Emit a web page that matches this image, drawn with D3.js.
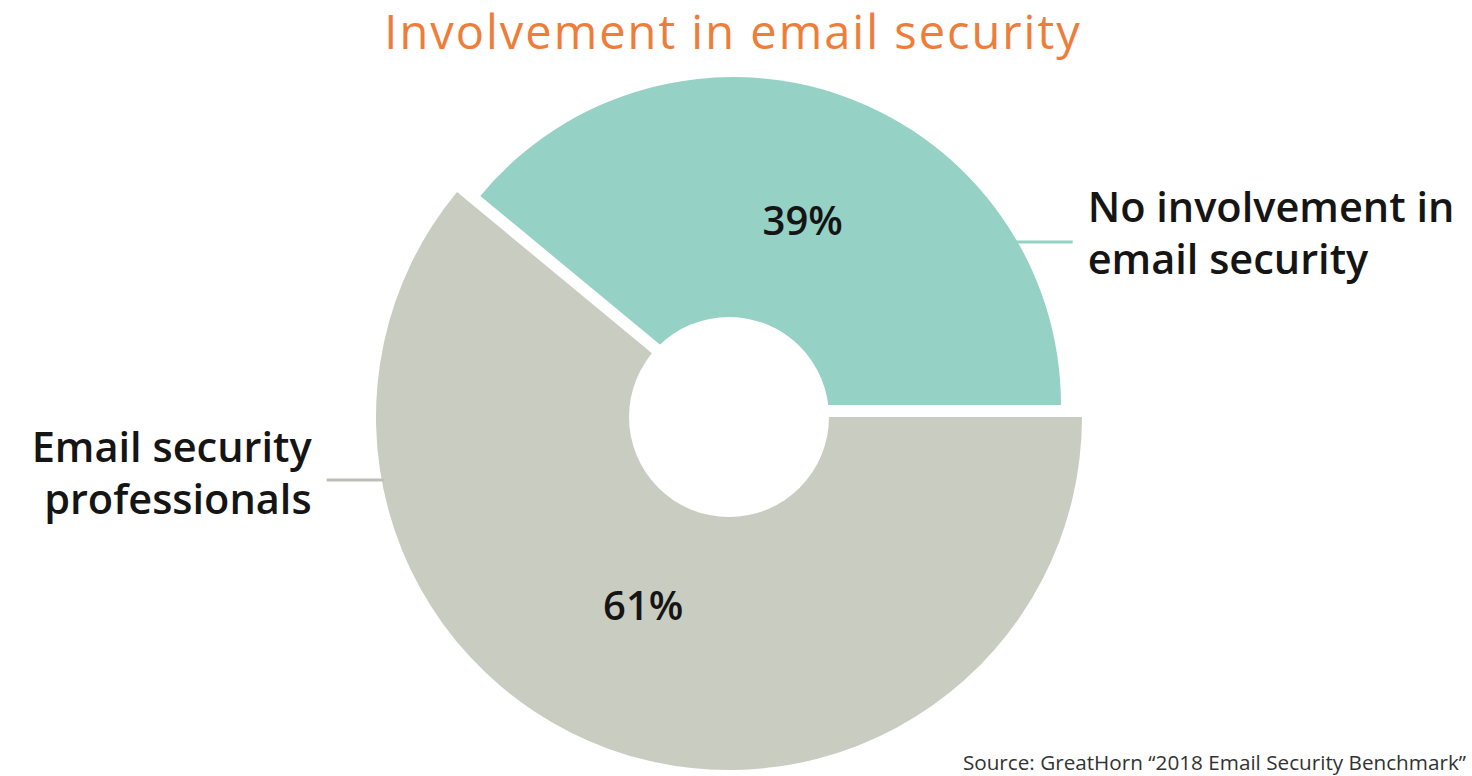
<!DOCTYPE html>
<html>
<head>
<meta charset="utf-8">
<script src="https://cdn.jsdelivr.net/npm/d3@7/dist/d3.min.js"></script>
<style>
  html, body { margin: 0; padding: 0; background: #ffffff; }
  svg { display: block; }
</style>
</head>
<body>
<svg id="chart" width="1472" height="776"></svg>
<script>
// ---- data ----
const categories = ["No involvement in email security", "Email security professionals"];
const values = [39, 61];
const valueLabels = ["39%", "61%"];
const labelLines = [["No involvement in", "email security"], ["Email security", "professionals"]];
const titleText = "Involvement in email security";
const sourceText = "Source: GreatHorn \u201C2018 Email Security Benchmark\u201D";

// ---- style / layout ----
const W = 1472, H = 776;
const colors = ["#95d1c5", "#c9ccc1"];
const lineColors = ["#95d1c5", "#bdbfb6"];
const sliceCenters = [[733, 405], [729, 417]];
const sliceRadii = [328, 353];
const holeCenter = [729, 417], holeRadius = 100;
const labelRadius = 200;
const labelNudge = [[2, 4], [-18, 0]];
const leaderY = [242, 480];
const leaderLen = 55;
const font = "'Open Sans', sans-serif";

const svg = d3.select("#chart");

// title
svg.append("text")
  .attr("x", 733).attr("y", 49)
  .attr("text-anchor", "middle")
  .attr("font-family", font).attr("font-size", 47).attr("font-weight", 400)
  .attr("letter-spacing", 2)
  .attr("fill", "#ef7d3a")
  .text(titleText);

const total = d3.sum(values);
const start = Math.PI / 2 - (values[0] / total) * 2 * Math.PI;
const pie = d3.pie().sort(null).startAngle(start).endAngle(start + 2 * Math.PI);
const arcs = pie(values);

arcs.forEach((a, i) => {
  const arc = d3.arc().innerRadius(0).outerRadius(sliceRadii[i]);
  svg.append("path")
    .attr("transform", `translate(${sliceCenters[i][0]},${sliceCenters[i][1]})`)
    .attr("d", arc(a))
    .attr("fill", colors[i]);
});

// hole
svg.append("circle")
  .attr("cx", holeCenter[0]).attr("cy", holeCenter[1]).attr("r", holeRadius)
  .attr("fill", "#ffffff");

// value labels
arcs.forEach((a, i) => {
  const la = d3.arc().innerRadius(labelRadius).outerRadius(labelRadius);
  const c = la.centroid(a);
  svg.append("text")
    .attr("x", sliceCenters[i][0] + c[0] + labelNudge[i][0])
    .attr("y", sliceCenters[i][1] + c[1] + labelNudge[i][1])
    .attr("dy", "0.36em")
    .attr("text-anchor", "middle")
    .attr("font-family", font).attr("font-size", 40).attr("font-weight", 600)
    .attr("fill", "#151515")
    .text(valueLabels[i]);
});

// leader lines and category labels
arcs.forEach((a, i) => {
  const mid = (a.startAngle + a.endAngle) / 2;
  const side = Math.sin(mid) >= 0 ? 1 : -1;
  const dy = leaderY[i] - sliceCenters[i][1];
  const edgeX = sliceCenters[i][0] + side * Math.sqrt(sliceRadii[i] ** 2 - dy * dy);
  const endX = edgeX + side * leaderLen;
  svg.append("line")
    .attr("x1", edgeX - side * 2).attr("x2", endX)
    .attr("y1", leaderY[i]).attr("y2", leaderY[i])
    .attr("stroke", lineColors[i]).attr("stroke-width", 3);
  const tx = endX + side * 15;
  const t = svg.append("text")
    .attr("text-anchor", side > 0 ? "start" : "end")
    .attr("font-family", font).attr("font-size", 41.5).attr("font-weight", 600)
    .attr("fill", "#151515");
  const firstBaseline = side > 0 ? 222 : 462;
  labelLines[i].forEach((ln, k) => {
    t.append("tspan").attr("x", tx).attr("y", firstBaseline + k * 52).text(ln);
  });
});

// source
svg.append("text")
  .attr("x", 1466).attr("y", 770)
  .attr("text-anchor", "end")
  .attr("font-family", font).attr("font-size", 20.7).attr("font-weight", 400)
  .attr("fill", "#333333")
  .text(sourceText);
</script>
</body>
</html>
